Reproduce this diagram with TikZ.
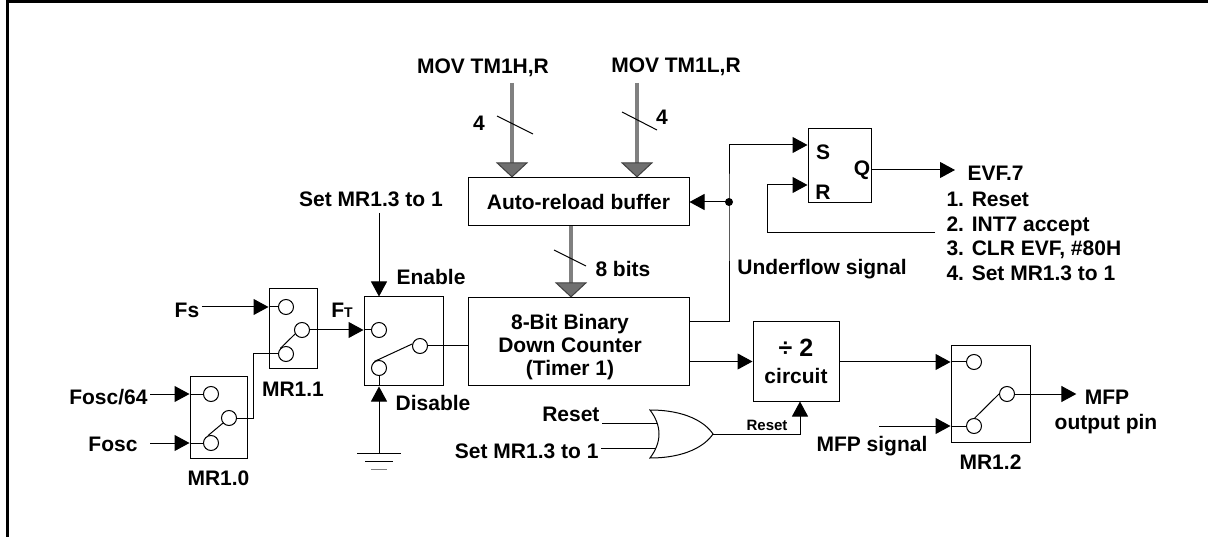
\documentclass[tikz,border=0pt]{standalone}
\usepackage{fontspec}
\setmainfont{Liberation Sans}
\usetikzlibrary{arrows.meta,positioning}

\definecolor{busgray}{RGB}{128,128,128}
\definecolor{headgray}{RGB}{112,112,112}

\newcommand{\dgfont}{\fontsize{21}{23}\selectfont\bfseries}
\newcommand{\smfont}{\fontsize{15}{17}\selectfont\bfseries}

\tikzset{
  blk/.style={draw, inner sep=0pt},
  contact/.style={circle, draw, inner sep=0pt, minimum size=15pt},
  lbl/.style={text height=15pt, text depth=4pt},
  sig/.style={-{Triangle[width=16pt,length=15pt]}},
  bus/.style={draw=busgray, line width=4pt,
    -{Triangle[width=32pt,length=15pt,color=black!75,fill=headgray,line width=1pt]}},
}

\begin{document}
\begin{tikzpicture}[x=1pt,y=-1pt,line width=1pt,
    every node/.style={font=\dgfont, inner sep=2pt}]
  \useasboundingbox (0,0) rectangle (1208,537);
  \draw[line width=3pt] (7.5,537) -- (7.5,2) -- (1208,2);

  % blocks
  \node[blk, minimum width=221pt, minimum height=48pt] (buf) at (578.5,202) {Auto-reload buffer};
  \node[blk, minimum width=221pt, minimum height=88pt] (cnt) at (578.5,342) {};
  \node[align=center] (cnttxt) at (570,347) {8-Bit Binary\\Down Counter\\(Timer 1)};
  \node[blk, minimum width=86pt, minimum height=79pt, align=center] (div) at (796,361.5)
    {{\fontsize{25}{27}\selectfont ÷ 2}\\[4pt]circuit};
  \node[blk, minimum width=63pt, minimum height=74pt] (sr) at (839.5,166) {};
  \node[lbl] (srS) at (823,154) {S};
  \node[lbl] (srR) at (823,194) {R};
  \node[lbl] (srQ) at (862,170) {Q};

  % switches
  \node[blk, minimum width=57pt, minimum height=81pt] (mr10) at (218.5,417.5) {};
  \node[contact] (m10a) at (211,394) {};
  \node[contact] (m10b) at (211,443) {};
  \node[contact] (m10c) at (229,418) {};
  \node[blk, minimum width=48pt, minimum height=80pt] (mr11) at (293,329) {};
  \node[contact] (m11a) at (286,307) {};
  \node[contact] (m11b) at (286,354) {};
  \node[contact] (m11c) at (302,330) {};
  \node[blk, minimum width=79pt, minimum height=89pt] (en) at (403.5,341.5) {};
  \node[contact] (en1) at (379,330) {};
  \node[contact] (en2) at (379,368) {};
  \node[contact] (en3) at (420,346) {};
  \node[blk, minimum width=79pt, minimum height=96pt] (mr12) at (990.5,394) {};
  \node[contact] (m12a) at (974,362) {};
  \node[contact] (m12b) at (974,426) {};
  \node[contact] (m12c) at (1007,394) {};
  \draw (m10b.112) -- (m10c.220);
  \draw (m11b.135) -- (m11c.210);
  \draw (en2.125) -- (en3.165);
  \draw (m12b.85) -- (m12c.180);

  % labels
  \node[below=10pt of mr10] (mr10lbl) {MR1.0};
  \node[below=10pt of mr11] (mr11lbl) {MR1.1};
  \node[below=10pt of mr12] (mr12lbl) {MR1.2};
  \node[lbl] (movh) at (483,68) {MOV TM1H,R};
  \node[lbl] (movl) at (676,67) {MOV TM1L,R};
  \node[lbl] (four1) at (479,125) {4};
  \node[lbl] (four2) at (662,119) {4};
  \node[lbl, anchor=west] (bits) at (593,271) {8 bits};
  \node[lbl] (setmr) at (371,201) {Set MR1.3 to 1};
  \node[lbl] (enable) at (431,279) {Enable};
  \node[lbl] (disable) at (433,405) {Disable};
  \node[lbl] (fs) at (187,312) {Fs};
  \node[lbl] (ft) at (342,312) {F{\fontsize{14}{16}\selectfont T}};
  \node[lbl, anchor=east] (fosc64) at (150,399) {Fosc/64};
  \node[lbl, anchor=east] (fosc) at (140,446) {Fosc};
  \node[lbl] (ufl) at (822,269) {Underflow signal};
  \node[lbl, anchor=west, inner xsep=12pt] (evf) at (955,175) {EVF.7};
  \node[anchor=north west, align=left, font=\fontsize{21}{24.5}\selectfont\bfseries]
    (evfclr) at (944,190) {1. Reset\\2. INT7 accept\\3. CLR EVF, \#80H\\4. Set MR1.3 to 1};
  \node[lbl, anchor=east] (rst) at (602,416) {Reset};
  \node[lbl, anchor=east] (setmr2) at (601,453) {Set MR1.3 to 1};
  \node[font=\smfont] (rstsm) at (767,425) {Reset};
  \node[lbl] (mfpsig) at (872,446) {MFP signal};
  \node[lbl, inner xsep=8pt] (mfp) at (1107,399) {MFP};
  \node[lbl] (outpin) at (1106,424) {output pin};

  % buses
  \coordinate (hbus) at (512,83);
  \coordinate (lbus) at (637,83);
  \coordinate (rbus) at (571,0);
  \draw[bus] (hbus) -- (buf.north -| hbus);
  \draw[bus] (lbus) -- (buf.north -| lbus);
  \draw[bus] (buf.south -| rbus) -- (cnt.north -| rbus);
  \draw (497,116) -- (533,134);
  \draw (622,112) -- (657,130);
  \draw (554,250) -- (586,266);

  % flip-flop
  \coordinate (jn) at (729,202);
  \coordinate (clr) at (935,233);
  \coordinate (qout) at ([yshift=-4pt]sr.east);
  \draw[sig] (jn) -- (buf.east);
  \draw[sig] ([yshift=20pt]cnt.east) -| (jn) |- ([yshift=21pt]sr.west);
  \fill (jn) circle (4pt);
  \draw[sig] (clr) -| ([xshift=-40pt,yshift=-19pt]sr.west) -- ([yshift=-19pt]sr.west);
  \draw[sig] (qout) -- (qout -| evf.west);

  % clock select
  \draw[sig] (fosc64.east |- m10a) -- (mr10.west |- m10a);
  \draw (mr10.west |- m10a) -- (m10a);
  \draw[sig] (fosc64.east |- m10b) -- (mr10.west |- m10b);
  \draw (mr10.west |- m10b) -- (m10b);
  \draw (m10c.east) -- ++(16,0) |- (m11b);
  \draw[sig] (fs.east |- m11a) -- (mr11.west |- m11a);
  \draw (mr11.west |- m11a) -- (m11a);
  \draw[sig] (m11c) -- (en.west |- en1);
  \draw (en.west |- en1) -- (en1);

  % enable / disable
  \coordinate (gnd) at (379,453);
  \draw[sig] (setmr.south -| en1) -- (en.north -| en1);
  \draw[sig] (gnd) -- (en.south -| en2);
  \draw (en.south -| en2) -- (en2);
  \draw ([xshift=-22pt]gnd) -- ([xshift=22pt]gnd);
  \draw ([xshift=-14pt,yshift=-8pt]gnd) -- ([xshift=14pt,yshift=-8pt]gnd);
  \draw[gray] ([xshift=-8pt,yshift=-16pt]gnd) -- ([xshift=8pt,yshift=-16pt]gnd);
  \draw (en3) -- (cnt.west |- en3);

  % divider and output
  \draw[sig] (cnt.east |- div.west) -- (div.west);
  \draw[sig] (div.east |- m12a) -- (mr12.west |- m12a);
  \draw (mr12.west |- m12a) -- (m12a);
  \coordinate (mfpin) at (879,426);
  \draw[sig] (mfpin) -- (mr12.west |- m12b);
  \draw (mr12.west |- m12b) -- (m12b);
  \draw[sig] (m12c) -- (m12c -| mfp.west);

  % or gate
  \coordinate (orin1) at (657,423);
  \coordinate (orin2) at (656,448);
  \coordinate (orout) at (713,434);
  \draw (650,410) .. controls (662,426) and (662,442) .. (650,458)
    .. controls (685,458) and (705,446) .. (orout)
    .. controls (705,422) and (685,410) .. (650,410) -- cycle;
  \draw (rst.east |- orin1) -- (orin1);
  \draw (setmr2.east |- orin2) -- (orin2);
  \draw[sig] (orout) -| ([xshift=4pt]div.south);
\end{tikzpicture}
\end{document}
